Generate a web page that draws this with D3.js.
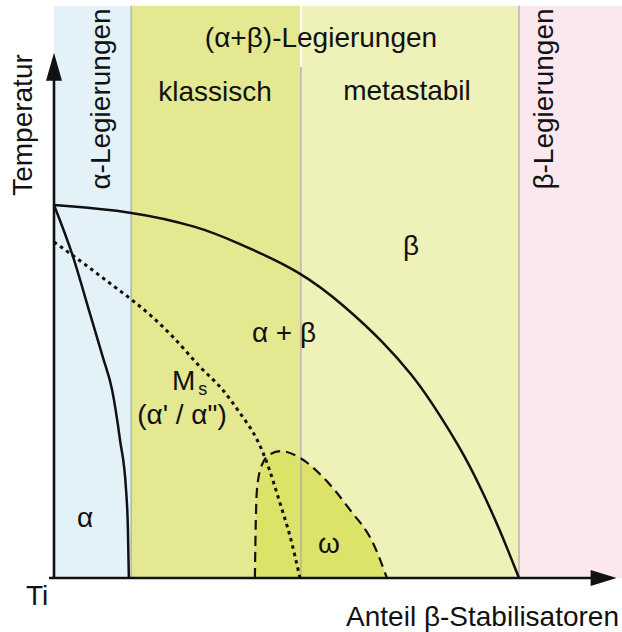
<!DOCTYPE html>
<html>
<head>
<meta charset="utf-8">
<script src="https://cdn.jsdelivr.net/npm/d3@7"></script>
<style>
  body { margin: 0; background: #fff; }
  text { font-family: "Liberation Sans", Arial, sans-serif; fill: #111; }
</style>
</head>
<body>
<div class="graphic"></div>
<script>
const W = 622, H = 632;

// alloy classes along the beta-stabiliser axis (start, end in % of beta range)
const bandNames = ["alpha", "klassisch", "metastabil", "beta"];
const bandStart = [0, 16.6, 53.1, 100];
const bandEnd = [16.6, 53.1, 100, 122.6];
const bandColors = ["#e3f1f9", "#e4e891", "#eef2b8", "#fbe8ee"];

// phase boundaries: [beta fraction, temperature %]
const betaTransus = [[0, 100], [16.6, 98.4], [31.4, 94.1], [38.5, 90.4], [53.1, 82.3], [63, 72.4],
  [70.8, 63.3], [77.2, 54.2], [80.9, 47.7], [87.3, 35.1], [91.6, 24.7], [95.9, 12.9], [100, 0]];
const alphaTransus = [[0, 100], [4.1, 86.1], [7.7, 71], [10.5, 59.2], [12.5, 50.4],
  [14.2, 37], [15.5, 23.6], [15.9, 12.9], [16.1, 0]];
const msLine = [[0, 90.1], [5, 85.6], [11.4, 79.6], [16.8, 74.5], [20.6, 70.6], [25.6, 64.6],
  [31.4, 56.6], [36.3, 50.4], [40, 44.2], [43.7, 37], [45.4, 32.2], [48.6, 20.1], [50.8, 11], [52.9, 0]];
const omegaLine = [[43.2, 0], [43.4, 15.5], [43.7, 24.4], [44.7, 30.3], [46.5, 33.2], [48.8, 34],
  [52.9, 32.2], [57.8, 27.1], [63.7, 18.2], [68.6, 9.4], [71.6, 0]];

var x = d3.scaleLinear().domain([0, 100]).range([54, 519]);
var y = d3.scaleLinear().domain([0, 100]).range([578, 205]);
const topT = 153.4;   // top of the bands
const yArrow = 140.8, xArrow = 121;

var svg = d3.select(".graphic")
  .append("svg")
  .attr("width", W)
  .attr("height", H)

// bands
svg.selectAll("rect.band")
  .data(bandNames)
  .enter()
  .append("rect")
  .attr("class", "band")
  .attr("x", (d, i) => x(bandStart[i]))
  .attr("width", (d, i) => x(bandEnd[i]) - x(bandStart[i]))
  .attr("y", y(topT))
  .attr("height", y(0) - y(topT))
  .style("fill", (d, i) => bandColors[i])

var line = d3.line()
  .x(d => x(d[0]))
  .y(d => y(d[1]))
  .curve(d3.curveMonotoneX)

// measured points are a bit noisy, smooth the transus a little
var smoothLine = d3.line()
  .x(d => x(d[0]))
  .y(d => y(d[1]))
  .curve(d3.curveBasis)

// omega field
svg.append("path")
  .attr("d", line(omegaLine) + "Z")
  .style("fill", "#dde268")

// band separators
svg.append("line")
  .attr("x1", x(bandStart[1])).attr("x2", x(bandStart[1]))
  .attr("y1", y(topT)).attr("y2", y(0))
  .style("stroke", "#b5b8ad").style("stroke-width", 1.6)
svg.append("line")
  .attr("x1", x(bandStart[3])).attr("x2", x(bandStart[3]))
  .attr("y1", y(topT)).attr("y2", y(0))
  .style("stroke", "#bdb8b4").style("stroke-width", 1.6)
svg.append("line")
  .attr("x1", x(bandStart[2])).attr("x2", x(bandStart[2]))
  .attr("y1", y(topT)).attr("y2", 67)
  .style("stroke", "#fff").style("stroke-width", 1.6)
svg.append("line")
  .attr("x1", x(bandStart[2])).attr("x2", x(bandStart[2]))
  .attr("y1", 67).attr("y2", y(0))
  .style("stroke", "#a9aaa4").style("stroke-width", 1.6).style("stroke-opacity", 0.75)

// curves
svg.append("path")
  .attr("d", line(omegaLine))
  .style("fill", "none").style("stroke", "#111")
  .style("stroke-width", 2.2).style("stroke-dasharray", "10,6")
svg.append("path")
  .attr("d", line(msLine))
  .style("fill", "none").style("stroke", "#111")
  .style("stroke-width", 3).style("stroke-dasharray", "3.5,4")
svg.append("path")
  .attr("d", line(alphaTransus))
  .style("fill", "none").style("stroke", "#111").style("stroke-width", 2.5)
svg.append("path")
  .attr("d", smoothLine(betaTransus))
  .style("fill", "none").style("stroke", "#111").style("stroke-width", 2.5)

// axes with arrows
svg.append("line")
  .attr("x1", x(0)).attr("x2", x(0))
  .attr("y1", y(0) + 1).attr("y2", y(yArrow) + 20)
  .style("stroke", "#111").style("stroke-width", 2.6)
svg.append("path")
  .attr("d", `M${x(0)},${y(yArrow)} L${x(0) + 8},${y(yArrow) + 28} L${x(0) - 8},${y(yArrow) + 28} Z`)
  .style("fill", "#111")
svg.append("line")
  .attr("x1", x(0) - 5).attr("x2", x(xArrow) - 20)
  .attr("y1", y(0)).attr("y2", y(0))
  .style("stroke", "#111").style("stroke-width", 2.6)
svg.append("path")
  .attr("d", `M${x(xArrow)},${y(0)} L${x(xArrow) - 26},${y(0) - 8} L${x(xArrow) - 26},${y(0) + 8} Z`)
  .style("fill", "#111")

// labels
function label(t, px, py, anchor) {
  return svg.append("text")
    .attr("x", px).attr("y", py)
    .attr("text-anchor", anchor || "middle")
    .style("font-size", "28px")
    .text(t)
}
function vlabel(t, px, py) {
  return svg.append("text")
    .attr("transform", `translate(${px},${py}) rotate(-90)`)
    .attr("text-anchor", "middle")
    .style("font-size", "28px")
    .text(t)
}

vlabel("Temperatur", 32, 125)
vlabel("α-Legierungen", 110, 99)
vlabel("β-Legierungen", 553, 99)
label("(α+β)-Legierungen", 321, 47)
label("klassisch", 215, 101)
label("metastabil", 407, 100)
label("β", 411, 255)
label("α + β", 284, 342)
label("α", 85, 527)
label("ω", 329, 553)
label("Ti", 26, 605, "start")
label("Anteil β-Stabilisatoren", 619, 626, "end")

var ms = svg.append("text")
  .attr("x", 172).attr("y", 390)
  .style("font-size", "28px")
ms.append("tspan").text("M")
ms.append("tspan").attr("dx", 3).attr("dy", 5).style("font-size", "18px").text("s")
label("(α' / α\")", 182, 424)
</script>
</body>
</html>
